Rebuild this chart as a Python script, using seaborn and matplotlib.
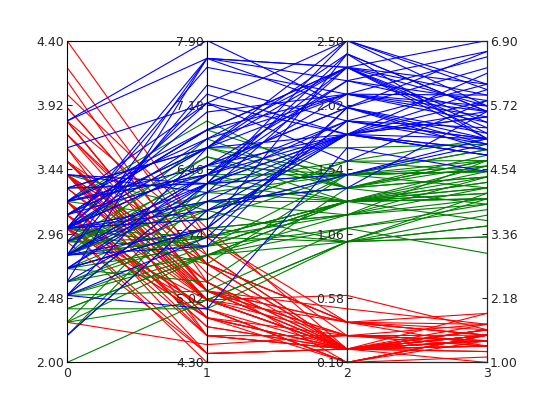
import numpy as np
import pandas as pd
import matplotlib
matplotlib.use("Agg")
import matplotlib.pyplot as plt
import seaborn as sns

# iris data, columns in axis order
sepal_length = [5.1,4.9,4.7,4.6,5.0,5.4,4.6,5.0,4.4,4.9,5.4,4.8,4.8,4.3,5.8,5.7,5.4,5.1,5.7,5.1,
                5.4,5.1,4.6,5.1,4.8,5.0,5.0,5.2,5.2,4.7,4.8,5.4,5.2,5.5,4.9,5.0,5.5,4.9,4.4,5.1,
                5.0,4.5,4.4,5.0,5.1,4.8,5.1,4.6,5.3,5.0,
                7.0,6.4,6.9,5.5,6.5,5.7,6.3,4.9,6.6,5.2,5.0,5.9,6.0,6.1,5.6,6.7,5.6,5.8,6.2,5.6,
                5.9,6.1,6.3,6.1,6.4,6.6,6.8,6.7,6.0,5.7,5.5,5.5,5.8,6.0,5.4,6.0,6.7,6.3,5.6,5.5,
                5.5,6.1,5.8,5.0,5.6,5.7,5.7,6.2,5.1,5.7,
                6.3,5.8,7.1,6.3,6.5,7.6,4.9,7.3,6.7,7.2,6.5,6.4,6.8,5.7,5.8,6.4,6.5,7.7,7.7,6.0,
                6.9,5.6,7.7,6.3,6.7,7.2,6.2,6.1,6.4,7.2,7.4,7.9,6.4,6.3,6.1,7.7,6.3,6.4,6.0,6.9,
                6.7,6.9,5.8,6.8,6.7,6.7,6.3,6.5,6.2,5.9]
sepal_width = [3.5,3.0,3.2,3.1,3.6,3.9,3.4,3.4,2.9,3.1,3.7,3.4,3.0,3.0,4.0,4.4,3.9,3.5,3.8,3.8,
               3.4,3.7,3.6,3.3,3.4,3.0,3.4,3.5,3.4,3.2,3.1,3.4,4.1,4.2,3.1,3.2,3.5,3.1,3.0,3.4,
               3.5,2.3,3.2,3.5,3.8,3.0,3.8,3.2,3.7,3.3,
               3.2,3.2,3.1,2.3,2.8,2.8,3.3,2.4,2.9,2.7,2.0,3.0,2.2,2.9,2.9,3.1,3.0,2.7,2.2,2.5,
               3.2,2.8,2.5,2.8,2.9,3.0,2.8,3.0,2.9,2.6,2.4,2.4,2.7,2.7,3.0,3.4,3.1,2.3,3.0,2.5,
               2.6,3.0,2.6,2.3,2.7,3.0,2.9,2.9,2.5,2.8,
               3.3,2.7,3.0,2.9,3.0,3.0,2.5,2.9,2.5,3.6,3.2,2.7,3.0,2.5,2.8,3.2,3.0,3.8,2.6,2.2,
               3.2,2.8,2.8,2.7,3.3,3.2,2.8,3.0,2.8,3.0,2.8,3.8,2.8,2.8,2.6,3.0,3.4,3.1,3.0,3.1,
               3.1,3.1,2.7,3.2,3.3,3.0,2.5,3.0,3.4,3.0]
petal_length = [1.4,1.4,1.3,1.5,1.4,1.7,1.4,1.5,1.4,1.5,1.5,1.6,1.4,1.1,1.2,1.5,1.3,1.4,1.7,1.5,
                1.7,1.5,1.0,1.7,1.9,1.6,1.6,1.5,1.4,1.6,1.6,1.5,1.5,1.4,1.5,1.2,1.3,1.5,1.3,1.5,
                1.3,1.3,1.3,1.6,1.9,1.4,1.6,1.4,1.5,1.4,
                4.7,4.5,4.9,4.0,4.6,4.5,4.7,3.3,4.6,3.9,3.5,4.2,4.0,4.7,3.6,4.4,4.5,4.1,4.5,3.9,
                4.8,4.0,4.9,4.7,4.3,4.4,4.8,5.0,4.5,3.5,3.8,3.7,3.9,5.1,4.5,4.5,4.7,4.4,4.1,4.0,
                4.4,4.6,4.0,3.3,4.2,4.2,4.2,4.3,3.0,4.1,
                6.0,5.1,5.9,5.6,5.8,6.6,4.5,6.3,5.8,6.1,5.1,5.3,5.5,5.0,5.1,5.3,5.5,6.7,6.9,5.0,
                5.7,4.9,6.7,4.9,5.7,6.0,4.8,4.9,5.6,5.8,6.1,6.4,5.6,5.1,5.6,6.1,5.6,5.5,4.8,5.4,
                5.6,5.1,5.1,5.9,5.7,5.2,5.0,5.2,5.4,5.1]
petal_width = [0.2,0.2,0.2,0.2,0.2,0.4,0.3,0.2,0.2,0.1,0.2,0.2,0.1,0.1,0.2,0.4,0.4,0.3,0.3,0.3,
               0.2,0.4,0.2,0.5,0.2,0.2,0.4,0.2,0.2,0.2,0.2,0.4,0.1,0.2,0.1,0.2,0.2,0.1,0.2,0.2,
               0.3,0.3,0.2,0.6,0.4,0.3,0.2,0.2,0.2,0.2,
               1.4,1.5,1.5,1.3,1.5,1.3,1.6,1.0,1.3,1.4,1.0,1.5,1.0,1.4,1.3,1.4,1.5,1.0,1.5,1.1,
               1.8,1.3,1.5,1.2,1.3,1.4,1.4,1.7,1.5,1.0,1.1,1.0,1.2,1.6,1.5,1.6,1.5,1.3,1.3,1.3,
               1.2,1.4,1.2,1.0,1.3,1.2,1.3,1.3,1.1,1.3,
               2.5,1.9,2.1,1.8,2.2,2.1,1.7,1.8,1.8,2.5,2.0,1.9,2.1,2.0,2.4,2.3,1.8,2.2,2.3,1.5,
               2.3,2.0,2.0,1.8,2.1,1.8,1.8,1.8,2.1,1.6,1.9,2.0,2.2,1.5,1.4,2.3,2.4,1.8,1.8,2.1,
               2.4,2.3,1.9,2.3,2.5,2.3,1.9,2.0,2.3,1.8]
species = ["setosa"] * 50 + ["versicolor"] * 50 + ["virginica"] * 50
species_colors = {"setosa": "red", "versicolor": "green", "virginica": "blue"}

columns = [sepal_width, sepal_length, petal_width, petal_length]
n_ticks = 6

sns.set_style("ticks", {"xtick.direction": "in", "ytick.direction": "in"})
plt.rcParams["font.family"] = ["DejaVu Sans"]
plt.rcParams["font.size"] = 9

arr = np.array(columns, dtype=float).T
mins, maxs = arr.min(axis=0), arr.max(axis=0)
norm = (arr - mins) / (maxs - mins)

rows = []
for i in range(len(species)):
    for j in range(len(columns)):
        rows.append({"id": i, "x": j, "y": norm[i, j], "species": species[i]})
df = pd.DataFrame(rows)

fig, axes = plt.subplots(1, 3, figsize=(5.4, 4.05), dpi=100, sharey=False)
fig.subplots_adjust(left=0.124, right=0.902, top=0.9, bottom=0.105, wspace=0)

for k, ax in enumerate(axes):
    sns.lineplot(data=df, x="x", y="y", units="id", estimator=None, hue="species",
                 palette=species_colors, legend=False, linewidth=0.8, ax=ax)
    ax.set_xlim(k, k + 1)
    ax.set_ylim(0, 1)
    ax.set_xlabel("")
    ax.set_ylabel("")
    pos = np.linspace(0, 1, n_ticks)
    ax.set_yticks(pos)
    ax.set_yticklabels(["%.2f" % v for v in np.linspace(mins[k], maxs[k], n_ticks)])
    ax.tick_params(axis="y", pad=2)
    for s in ax.spines.values():
        s.set_visible(True)
        s.set_color("black")
    if k < 2:
        ax.set_xticks([k])
        ax.set_xticklabels([str(k)])
    else:
        ax.set_xticks([k, k + 1])
        ax.set_xticklabels([str(k), str(k + 1)])
        ax2 = ax.twinx()
        ax2.set_ylim(0, 1)
        ax2.set_yticks(pos)
        ax2.set_yticklabels(["%.2f" % v for v in np.linspace(mins[3], maxs[3], n_ticks)])
        ax2.tick_params(axis="y", direction="in", pad=2)

# middle axes labels at x=1 should show too
axes[0].set_xticks([0, 1])
axes[0].set_xticklabels(["0", "1"])
axes[1].set_xticks([1, 2])
axes[1].set_xticklabels(["", "2"])
axes[2].set_xticklabels(["", "3"])

fig.savefig("out.png")
